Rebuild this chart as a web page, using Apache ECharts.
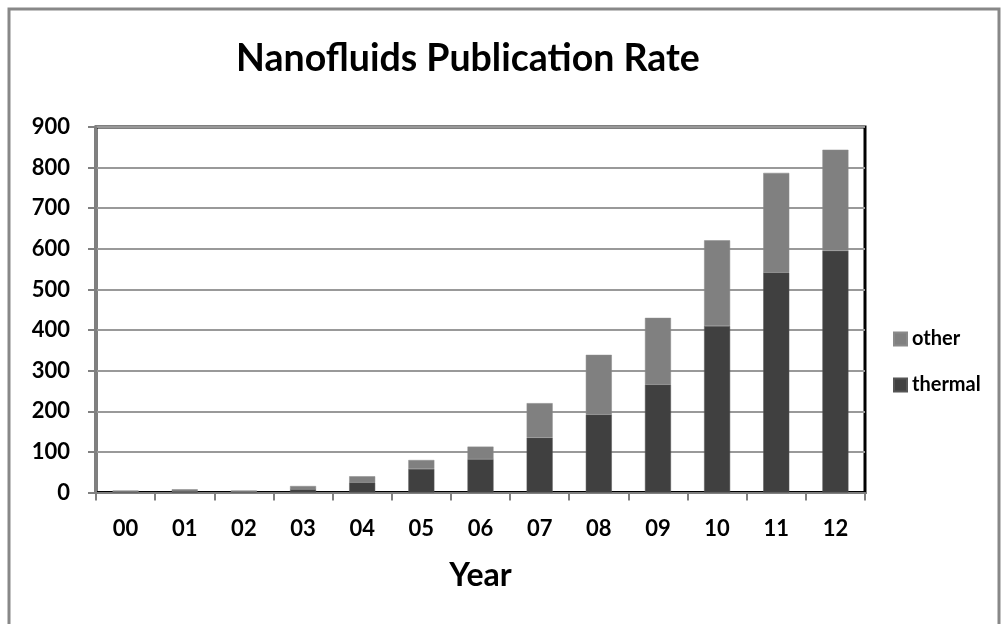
<!DOCTYPE html>
<html>
<head>
<meta charset="utf-8">
<script src="https://cdn.jsdelivr.net/npm/echarts@6/dist/echarts.min.js"></script>
<style>
html,body{margin:0;padding:0;background:#fff;}
#c{width:1004px;height:624px;}
</style>
</head>
<body>
<div id="c"></div>
<script>
var categories = ['00','01','02','03','04','05','06','07','08','09','10','11','12'];
var thermal = [1, 2, 1, 8, 25, 58, 82, 135, 192, 266, 410, 542, 595];
var other = [4, 6, 4, 8, 15, 22, 31, 85, 147, 164, 211, 245, 249];
var yTicks = [0, 100, 200, 300, 400, 500, 600, 700, 800, 900];

var FONT = 'Lato, "Open Sans", sans-serif';
var chart = echarts.init(document.getElementById('c'), null, {renderer: 'canvas'});
chart.setOption({
  animation: false,
  backgroundColor: '#fff',
  title: {
    text: 'Nanofluids Publication Rate',
    left: 463,
    textAlign: 'center',
    top: 35,
    textStyle: {fontFamily: FONT, fontWeight: 'bold', fontSize: 37.5, color: '#000'}
  },
  legend: {
    data: ['other', 'thermal'],
    orient: 'vertical',
    left: 888,
    top: 324,
    itemWidth: 13,
    itemHeight: 13,
    itemGap: 26,
    icon: 'rect',
    textStyle: {fontFamily: FONT, fontWeight: 'bold', fontSize: 20, color: '#000', lineHeight: 20}
  },
  graphic: [{
    type: 'rect',
    shape: {x: 9, y: 9, width: 990, height: 640},
    style: {fill: 'none', stroke: '#888', lineWidth: 3},
    silent: true,
    z: -1
  }],
  grid: {
    left: 96, right: 139, top: 127, bottom: 131.5,
    show: true, borderColor: '#000', borderWidth: 3, backgroundColor: 'transparent'
  },
  xAxis: {
    type: 'category',
    data: categories,
    name: 'Year',
    nameLocation: 'middle',
    nameGap: 67,
    nameTextStyle: {fontFamily: FONT, fontWeight: 'bold', fontSize: 32, color: '#000'},
    axisLine: {show: true, lineStyle: {color: '#808080', width: 2}},
    axisTick: {show: true, length: 8, inside: false, lineStyle: {color: '#808080', width: 2}},
    axisLabel: {fontFamily: FONT, fontWeight: 'bold', fontSize: 22, color: '#000', margin: 25}
  },
  yAxis: {
    type: 'value',
    min: 0, max: 900, interval: 100,
    axisLine: {show: true, lineStyle: {color: '#808080', width: 2}},
    axisTick: {show: true, length: 8, lineStyle: {color: '#808080', width: 2}},
    axisLabel: {fontFamily: FONT, fontWeight: 'bold', fontSize: 22, color: '#000', margin: 26,
      formatter: function (v) { return yTicks.indexOf(v) >= 0 ? String(v) : ''; }},
    splitLine: {show: true, lineStyle: {color: '#999', width: 2}}
  },
  series: [
    {name: 'thermal', type: 'bar', stack: 'a', data: thermal, barWidth: 26,
      itemStyle: {color: '#404040', borderColor: '#555', borderWidth: 0.5}},
    {name: 'other', type: 'bar', stack: 'a', data: other, barWidth: 26,
      itemStyle: {color: '#808080', borderColor: '#8a8a8a', borderWidth: 0.5}}
  ]
});
</script>
</body>
</html>
